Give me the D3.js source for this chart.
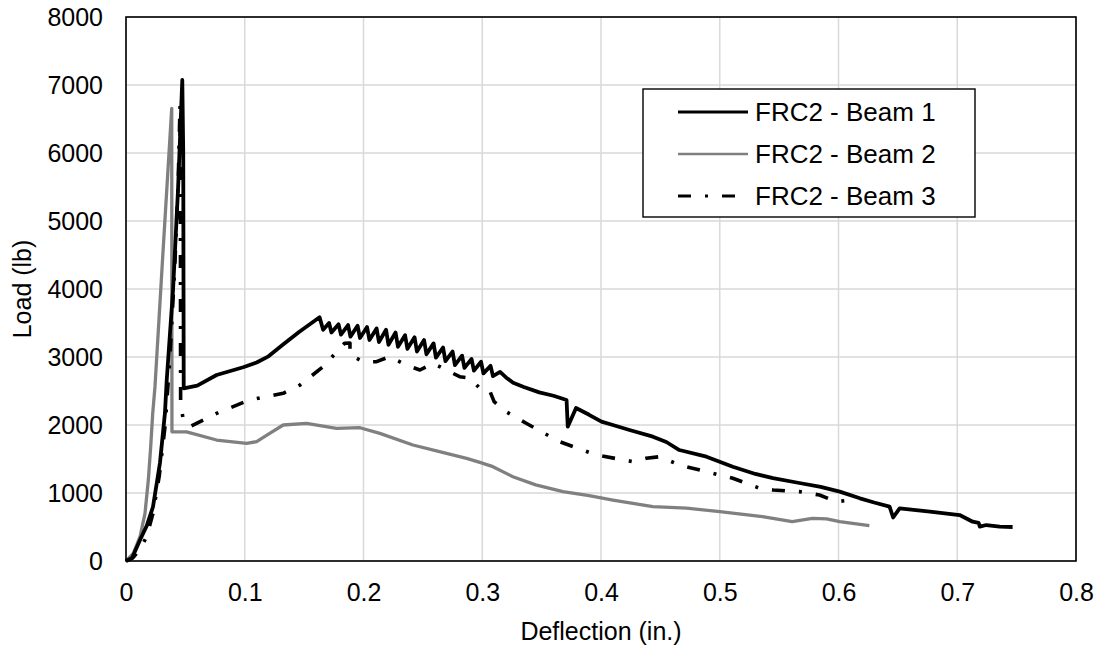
<!DOCTYPE html>
<html>
<head>
<meta charset="utf-8">
<script src="https://cdn.jsdelivr.net/npm/d3@7"></script>
<style>
    body { margin: 0; background: #fff; }
    text { font-family: "Liberation Sans", Arial, sans-serif; fill: #000; }
</style>
</head>
<body>
<svg class="chart" width="1104" height="651"></svg>
<script>
// Chart data (deflection in., load lb)
const beam1 = [
    [0, 0], [0.005, 40], [0.0118, 309], [0.0175, 520], [0.0227, 794], [0.0286, 1441],
    [0.0328, 2176], [0.0343, 2662], [0.0396, 3985], [0.0438, 5456], [0.0474, 7074],
    [0.0482, 6000], [0.0486, 2540], [0.06, 2580], [0.0763, 2735], [0.0987, 2850],
    [0.11, 2920], [0.12, 3010], [0.132, 3180], [0.146, 3372], [0.163, 3584],
    [0.166, 3400], [0.171, 3500], [0.173, 3360], [0.179, 3480], [0.181, 3330],
    [0.187, 3470], [0.189, 3300], [0.195, 3460], [0.197, 3280], [0.203, 3440],
    [0.205, 3250], [0.211, 3420], [0.213, 3220], [0.219, 3400], [0.221, 3180],
    [0.227, 3360], [0.229, 3150], [0.235, 3320], [0.237, 3120], [0.243, 3290],
    [0.245, 3080], [0.251, 3250], [0.253, 3040], [0.259, 3200], [0.261, 2990],
    [0.267, 3140], [0.269, 2940], [0.275, 3080], [0.277, 2880], [0.283, 3020],
    [0.285, 2840], [0.291, 2970], [0.293, 2800], [0.299, 2930], [0.301, 2760],
    [0.307, 2870], [0.309, 2720], [0.315, 2780], [0.320, 2700], [0.326, 2620],
    [0.335, 2560], [0.348, 2480], [0.360, 2430], [0.371, 2368], [0.372, 1975],
    [0.379, 2250], [0.39, 2150], [0.4004, 2049], [0.41, 2000], [0.424, 1926],
    [0.4437, 1828], [0.455, 1750], [0.466, 1632], [0.4888, 1534], [0.511, 1387],
    [0.53, 1280], [0.5448, 1220], [0.567, 1147], [0.585, 1090], [0.601, 1020],
    [0.618, 922], [0.63, 860], [0.643, 800], [0.646, 640], [0.6515, 775],
    [0.677, 725], [0.702, 676], [0.713, 578], [0.718, 560], [0.719, 505],
    [0.7245, 529], [0.7357, 505], [0.7466, 500]
];

const beam2 = [
    [0, 0], [0.0062, 113], [0.0118, 357], [0.016, 701], [0.0188, 1191], [0.0208, 1681],
    [0.0225, 2172], [0.0244, 2560], [0.031, 4500], [0.0385, 6657], [0.0387, 1900],
    [0.051, 1900], [0.0763, 1779], [0.1016, 1730], [0.11, 1755], [0.121, 1877],
    [0.1324, 2000], [0.152, 2025], [0.1773, 1950], [0.197, 1960], [0.2138, 1877],
    [0.2416, 1706], [0.264, 1608], [0.2868, 1510], [0.298, 1450], [0.309, 1387],
    [0.3258, 1240], [0.345, 1120], [0.368, 1020], [0.39, 960], [0.41, 897],
    [0.4437, 799], [0.472, 779], [0.5, 725], [0.536, 651], [0.561, 578],
    [0.578, 627], [0.59, 620], [0.601, 578], [0.626, 520]
];

const beam3 = [
    [0, 0], [0.006, 50], [0.012, 180], [0.0174, 357], [0.0227, 701], [0.028, 1250],
    [0.033, 2000], [0.037, 3000], [0.041, 4300], [0.044, 5600], [0.0455, 6700],
    [0.0458, 5500], [0.046, 2320], [0.048, 2100], [0.0539, 1975], [0.0763, 2172],
    [0.104, 2368], [0.1324, 2466], [0.1465, 2588], [0.166, 2858], [0.184, 3201],
    [0.1886, 3206], [0.1886, 3030], [0.1998, 2931], [0.211, 2931], [0.222, 3005],
    [0.236, 2882], [0.2475, 2809], [0.2587, 2907], [0.281, 2710], [0.2896, 2690],
    [0.298, 2540], [0.306, 2515], [0.31, 2343], [0.32, 2196], [0.337, 2025],
    [0.365, 1755], [0.396, 1559], [0.427, 1461], [0.438, 1510], [0.4495, 1534],
    [0.466, 1412], [0.4888, 1314], [0.511, 1216], [0.5337, 1069], [0.545, 1044],
    [0.567, 1020], [0.584, 970], [0.598, 872], [0.607, 890]
];

const seriesNames = ['FRC2 - Beam 1', 'FRC2 - Beam 2', 'FRC2 - Beam 3'];
const xTicks = [0, 0.1, 0.2, 0.3, 0.4, 0.5, 0.6, 0.7, 0.8];
const yTicks = [0, 1000, 2000, 3000, 4000, 5000, 6000, 7000, 8000];

// Layout
const margin = { top: 17, right: 28, bottom: 90, left: 126 };
const width = 1104 - margin.left - margin.right;
const height = 651 - margin.top - margin.bottom;

const styles = [
    { color: '#000', width: 3.8, dash: null },
    { color: '#808080', width: 3.3, dash: null },
    { color: '#000', width: 3.6, dash: '13,14,3,14' }
];

const svg = d3.select('.chart');
const g = svg.append('g')
    .attr('transform', `translate(${margin.left},${margin.top})`);

const xScale = d3.scaleLinear().domain([0, 0.8]).range([0, width]);
const yScale = d3.scaleLinear().domain([0, 8000]).range([height, 0]);

// Gridlines
g.append('g')
    .selectAll('line')
    .data(xTicks)
    .enter()
    .append('line')
    .attr('x1', d => xScale(d)).attr('x2', d => xScale(d))
    .attr('y1', 0).attr('y2', height)
    .attr('stroke', '#d9d9d9').attr('stroke-width', 1.5);

g.append('g')
    .selectAll('line')
    .data(yTicks)
    .enter()
    .append('line')
    .attr('x1', 0).attr('x2', width)
    .attr('y1', d => yScale(d)).attr('y2', d => yScale(d))
    .attr('stroke', '#d9d9d9').attr('stroke-width', 1.5);

// Series
const line = d3.line()
    .x(d => xScale(d[0]))
    .y(d => yScale(d[1]));

[beam2, beam1, beam3].forEach((data, i) => {
    const s = styles[[1, 0, 2][i]];
    g.append('path')
        .datum(data)
        .attr('d', line)
        .attr('fill', 'none')
        .attr('stroke', s.color)
        .attr('stroke-width', s.width)
        .attr('stroke-linejoin', 'round')
        .attr('stroke-dasharray', s.dash);
});

// Plot border
g.append('rect')
    .attr('width', width)
    .attr('height', height)
    .attr('fill', 'none')
    .attr('stroke', '#000')
    .attr('stroke-width', 1.6);

// Axes (labels only)
const xAxis = g.append('g')
    .attr('transform', `translate(0,${height})`)
    .call(d3.axisBottom(xScale).tickValues(xTicks).tickSize(0).tickPadding(22).tickFormat(d => d3.format('')(d)));
xAxis.select('.domain').remove();
xAxis.selectAll('text').style('font-size', '25px').attr('font-family', null);

const yAxis = g.append('g')
    .call(d3.axisLeft(yScale).tickValues(yTicks).tickSize(0).tickPadding(23).tickFormat(d3.format('d')));
yAxis.select('.domain').remove();
yAxis.selectAll('text').style('font-size', '25px').attr('font-family', null);

// Axis titles
svg.append('text')
    .attr('x', margin.left + width / 2)
    .attr('y', 640)
    .attr('text-anchor', 'middle')
    .style('font-size', '25px')
    .text('Deflection (in.)');

svg.append('text')
    .attr('transform', `translate(31,${margin.top + height / 2}) rotate(-90)`)
    .attr('text-anchor', 'middle')
    .style('font-size', '25px')
    .text('Load (lb)');

// Legend
const legend = svg.append('g');
legend.append('rect')
    .attr('x', 643).attr('y', 89)
    .attr('width', 332).attr('height', 128)
    .attr('fill', '#fff')
    .attr('stroke', '#000')
    .attr('stroke-width', 1.4);

seriesNames.forEach((name, i) => {
    const y = 112 + i * 42;
    legend.append('line')
        .attr('x1', 678).attr('x2', 748)
        .attr('y1', y).attr('y2', y)
        .attr('stroke', styles[i].color)
        .attr('stroke-width', i === 1 ? 2.4 : 3)
        .attr('stroke-dasharray', styles[i].dash);
    legend.append('text')
        .attr('x', 755)
        .attr('y', y + 9)
        .style('font-size', '26px')
        .text(name);
});
</script>
</body>
</html>
